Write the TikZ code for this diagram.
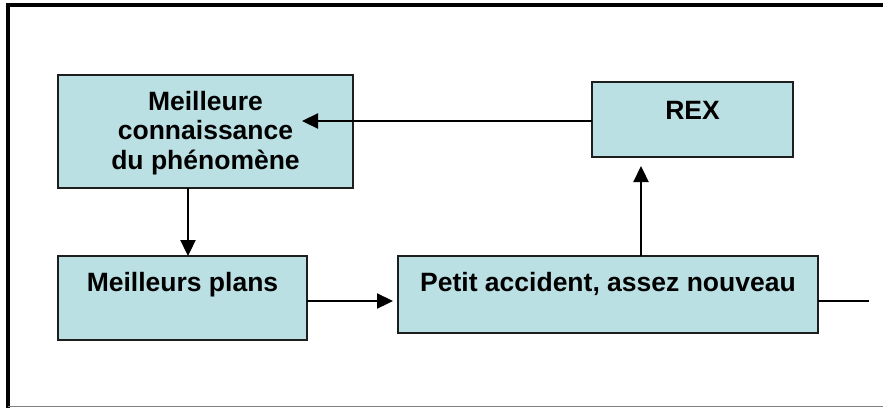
\documentclass[tikz,border=0pt]{standalone}
\usepackage{fontspec}
\setmainfont{Liberation Sans}
\usetikzlibrary{arrows.meta}
\definecolor{boxfill}{RGB}{186,224,227}
\definecolor{boxline}{RGB}{30,30,30}
\definecolor{frameg}{RGB}{128,128,128}
\tikzset{
  box/.style={draw=boxline, line width=1.3pt, fill=boxfill, inner sep=0pt, outer sep=0pt},
  lbl/.style={font=\bfseries\fontsize{26.5}{29.5}\selectfont, align=center, inner sep=0pt, anchor=base},
  arr/.style={line width=2.3pt, -{Triangle[length=16pt,width=15pt]}},
  plain/.style={line width=2pt}
}
\begin{document}
\begin{tikzpicture}[x=1pt,y=-1pt]
\useasboundingbox (0,0) rectangle (883,408);
% frame
\draw[line width=3.5pt] (8,408) -- (8,5) -- (883,5);
\draw[frameg, line width=1.2pt] (8,406.8) -- (883,406.8);
% boxes
\node[box, minimum width=295, minimum height=113] (box1) at (205.5,131.5) {};
\node[box, minimum width=201, minimum height=75] (rex) at (692.5,119.5) {};
\node[box, minimum width=249, minimum height=84] (plans) at (182.5,298) {};
\node[box, minimum width=420, minimum height=77] (petit) at (608,294.5) {};
% texts
\node[lbl] (t1) at ([yshift=-94pt]box1.north) {Meilleure\\connaissance\\du phénomène};
\node[lbl] (t2) at ([yshift=-37pt]rex.north) {REX};
\node[lbl] (t3) at ([yshift=-35.7pt]plans.north) {Meilleurs plans};
\node[lbl] (t4) at ([yshift=-35.7pt]petit.north) {Petit accident, assez nouveau};
% connector points
\coordinate (k1) at (302,121);
\coordinate (k2) at (188,0);
\coordinate (k3) at (0,301);
\coordinate (k4) at (641,0);
\coordinate (k5) at (869,301);
% connectors
\draw[arr] (rex.west |- k1) -- (k1);
\draw[arr] (box1.south -| k2) -- (plans.north -| k2);
\draw[arr, shorten >=5pt] (plans.east |- k3) -- (petit.west |- k3);
\draw[arr, shorten >=9pt] (petit.north -| k4) -- (rex.south -| k4);
\draw[plain] (petit.east |- k5) -- (k5);
\end{tikzpicture}
\end{document}
